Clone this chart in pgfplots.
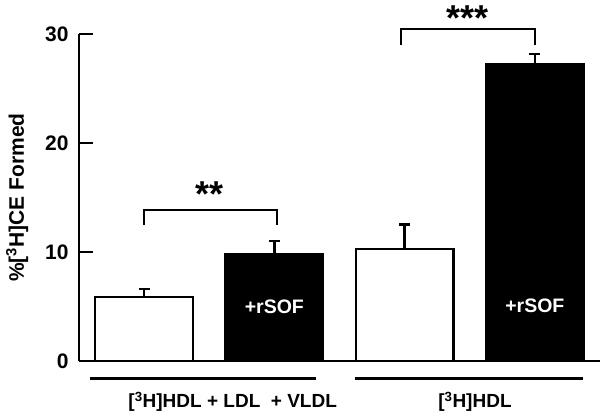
\documentclass[border=0pt]{standalone}
\usepackage{fontspec}
\setmainfont{Liberation Sans}
\usepackage{pgfplots}
\pgfplotsset{compat=1.18}
\begin{document}
\fontsize{19}{21}\selectfont\bfseries
\begin{tikzpicture}
\begin{axis}[
  scale only axis,
  width=521pt, height=327pt,
  xmin=0.5, xmax=4.5, ymin=0, ymax=30,
  axis x line=bottom, axis y line=left,
  axis line style={line width=2.6pt, -},
  ytick={0,10,20,30},
  xtick=\empty,
  tick align=inside,
  major tick length=14pt,
  tick style={line width=2.6pt, black},
  /pgf/number format/assume math mode=true,
  yticklabel style={font=\fontsize{21}{23}\selectfont\bfseries, xshift=-4pt},
  ylabel={\%[$^{\mathbf{3}}$H]CE Formed},
  ylabel style={font=\fontsize{21}{23}\selectfont\bfseries, yshift=4pt},
  clip=false,
  ybar, bar width=0.75,
  bar shift=0pt,
]
\addplot[fill=white, draw=black, line width=2.4pt,
  error bars/.cd, y dir=plus, y explicit,
  error bar style={line width=2.6pt, black},
  error mark options={rotate=90, mark size=5.5pt, line width=2.6pt}]
  coordinates {(1,5.85) +- (0,0.75) (3,10.3) +- (0,2.25)};
\addplot[fill=black, draw=black, line width=2.4pt,
  error bars/.cd, y dir=plus, y explicit,
  error bar style={line width=2.6pt, black},
  error mark options={rotate=90, mark size=5.5pt, line width=2.6pt}]
  coordinates {(2,9.8) +- (0,1.2) (4,27.2) +- (0,0.95)};
% brackets
\addplot[sharp plot, line width=2.4pt, black, forget plot] coordinates {(1,12.5) (1,13.85) (2.02,13.85) (2.02,12.5)};
\addplot[sharp plot, line width=2.4pt, black, forget plot] coordinates {(2.97,29.0) (2.97,30.45) (4,30.45) (4,29.0)};
% group lines
\addplot[sharp plot, line width=2.4pt, black, forget plot] coordinates {(0.585,-1.6) (2.32,-1.6)};
\addplot[sharp plot, line width=2.4pt, black, forget plot] coordinates {(2.62,-1.6) (4.37,-1.6)};
\node[font=\fontsize{36}{36}\selectfont\bfseries, inner sep=0pt] at (axis cs:1.5,15.3) {**};
\node[font=\fontsize{36}{36}\selectfont\bfseries, inner sep=0pt] at (axis cs:3.48,31.5) {***};
\node[white, font=\fontsize{19.5}{21}\selectfont\bfseries] at (axis cs:2,5.0) {+rSOF};
\node[white, font=\fontsize{19.5}{21}\selectfont\bfseries] at (axis cs:4,5.1) {+rSOF};
\node at (axis cs:1.68,-3.75) {[$^{\mathbf{3}}$H]HDL + LDL\ \ + VLDL};
\node at (axis cs:3.54,-3.75) {[$^{\mathbf{3}}$H]HDL};
\end{axis}
\pgfresetboundingbox
\path[use as bounding box] (current axis.south west) ++(-79pt,-55pt) rectangle ++(600pt,416pt);
\end{tikzpicture}
\end{document}
